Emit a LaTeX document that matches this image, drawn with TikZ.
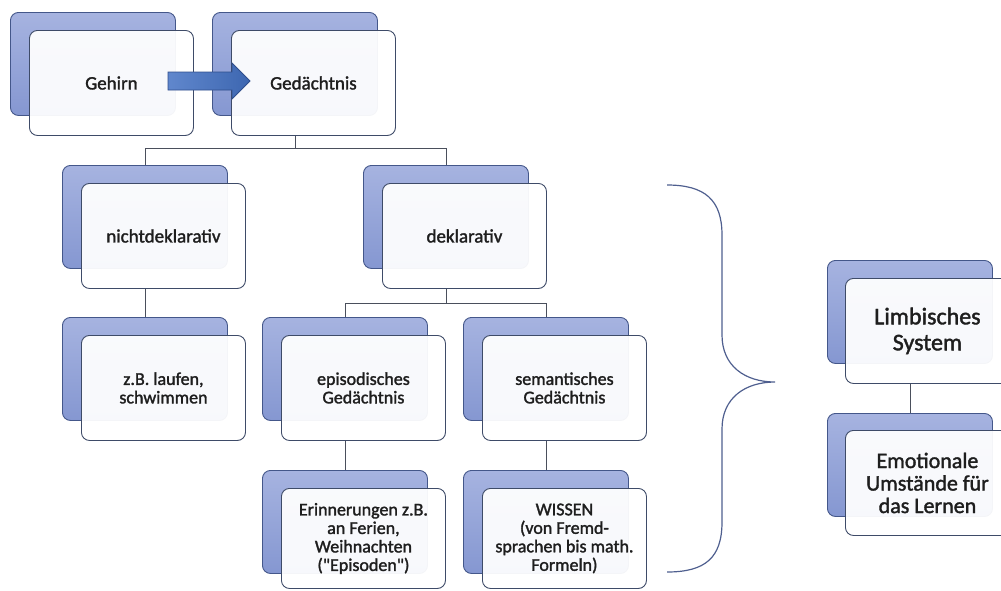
\documentclass[tikz,border=0pt]{standalone}
\usepackage{fontspec}
\setmainfont{Carlito}[RawFeature={embolden=1.6}]
\usetikzlibrary{calc}
\definecolor{backtop}{HTML}{A6B3E0}
\definecolor{backbot}{HTML}{8597D1}
\definecolor{backline}{HTML}{44578A}
\definecolor{frontline}{HTML}{3E4B68}
\definecolor{txt}{HTML}{1E1E1E}
\definecolor{conncol}{HTML}{4A4F5C}
\definecolor{arrowfill}{HTML}{4472C4}
\definecolor{arrowline}{HTML}{2F4E8C}
\definecolor{bracecol}{HTML}{4F5F8F}
\tikzset{
  backbox/.style={draw=backline, line width=0.9pt, rounded corners=8pt, top color=backtop, bottom color=backbot,
    minimum width=165pt, minimum height=103pt, inner sep=0pt, anchor=north west},
  frontbox/.style={draw=frontline, line width=0.9pt, rounded corners=8pt, fill=white, fill opacity=0.94, text opacity=1,
    minimum width=164pt, minimum height=105pt, inner sep=0pt, anchor=north west, align=center, text=txt},
  fa/.style={font=\fontsize{19}{20}\selectfont},
  fb/.style={font=\fontsize{18}{18.5}\selectfont},
  conn/.style={draw=conncol, line width=0.9pt},
}
\begin{document}
\begin{tikzpicture}[x=1pt,y=-1pt]
\useasboundingbox (0,0) rectangle (1001,590);
\clip (0,0) rectangle (1001,590);
% top row
\node[backbox] (gehB) at (10,12) {};
\node[frontbox,fa] (geh) at (29,30) {Gehirn};
\node[backbox] (gedB) at (212,12) {};
\node[frontbox,fa] (ged) at (231,30) {Gedächtnis};
% second row
\node[backbox] (nichtB) at (62,165) {};
\node[frontbox,fa] (nicht) at (81,183) {nichtdeklarativ};
\node[backbox] (deklB) at (363,165) {};
\node[frontbox,fa] (dekl) at (382,183) {deklarativ};
% third row
\node[backbox] (laufB) at (62,317) {};
\node[frontbox,fb] (lauf) at (81,335) {z.B. laufen,\\schwimmen};
\node[backbox] (epiB) at (262,317) {};
\node[frontbox,fb] (epi) at (281,335) {episodisches\\Gedächtnis};
\node[backbox] (semB) at (463,317) {};
\node[frontbox,fb] (sem) at (482,335) {semantisches\\Gedächtnis};
% fourth row
\node[backbox] (erinB) at (262,470) {};
\node[frontbox,fb,minimum height=100pt] (erin) at (281,488) {Erinnerungen z.B.\\an Ferien,\\Weihnachten\\(\textquotedbl Episoden\textquotedbl)};
\node[backbox] (wisB) at (463,470) {};
\node[frontbox,fb,minimum height=100pt] (wis) at (482,488) {WISSEN\\(von Fremd-\\sprachen bis math.\\Formeln)};
% right column
\node[backbox] (limB) at (827,260) {};
\node[frontbox,font=\fontsize{24}{26}\selectfont] (lim) at (845,278) {Limbisches\\System};
\node[backbox] (emoB) at (827,413) {};
\node[frontbox,font=\fontsize{22}{22.5}\selectfont] (emo) at (845,430) {Emotionale\\Umstände für\\das Lernen};
% junction coordinates
\coordinate (h1) at (0,148);
\coordinate (h2) at (0,303);
% connectors
\draw[conn] (gedB.south |- ged.south) -- (gedB.south |- h1);
\draw[conn] (nichtB.north) -- (nichtB.north |- h1) -- (deklB.north |- h1) -- (deklB.north);
\draw[conn] (nichtB.south |- nicht.south) -- (laufB.north);
\draw[conn] (deklB.south |- dekl.south) -- (deklB.south |- h2);
\draw[conn] (epiB.north) -- (epiB.north |- h2) -- (semB.north |- h2) -- (semB.north);
\draw[conn] (epiB.south |- epi.south) -- (erinB.north);
\draw[conn] (semB.south |- sem.south) -- (wisB.north);
\draw[conn] (limB.south |- lim.south) -- (emoB.north);
% brace
\draw[draw=bracecol, line width=1.2pt] (667,185) .. controls (705,185) and (722,200) .. (722,235) -- (722,335)
  .. controls (722,366) and (745,382) .. (775,382)
  .. controls (745,382) and (722,398) .. (722,429) -- (722,522)
  .. controls (722,558) and (705,572) .. (667,572);
% block arrow
\draw[draw=arrowline, line width=0.8pt, left color=arrowfill!85!white, right color=arrowfill!90!black]
  (168,72) -- (232,72) -- (232,63) -- (250,81) -- (232,99) -- (232,90) -- (168,90) -- cycle;
\end{tikzpicture}
\end{document}
